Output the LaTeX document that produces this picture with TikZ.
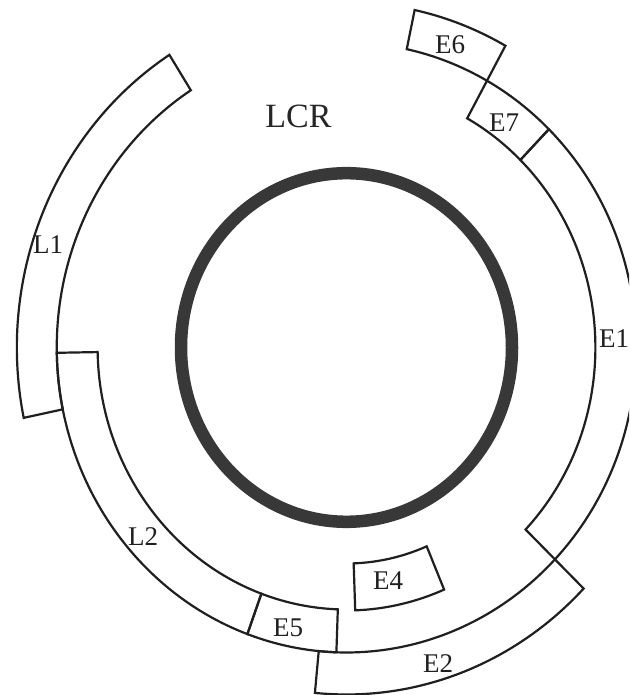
\documentclass[tikz,border=0pt]{standalone}
\usepackage{fontspec}
\setmainfont{Liberation Serif}
\begin{document}
\begin{tikzpicture}[x=1pt,y=1pt,
  band/.style={draw=black!88, line width=2.2pt, line join=miter},
  ring/.style={draw=black!78, line width=12.5pt},
  lab/.style={font=\fontsize{27}{27}\selectfont, text=black!88, inner sep=0pt},
  biglab/.style={font=\fontsize{34}{34}\selectfont, text=black!85, inner sep=0pt}]
\newcommand\bandsector[5]{%
  \draw[#1] (#2:#4) arc[start angle=#2, end angle=#3, radius=#4]
     -- (#3:#5) arc[start angle=#3, end angle=#2, radius=#5] -- cycle;}
\useasboundingbox (0,0) rectangle (629,695);
\fill[white] (0,0) rectangle (629,695);
\clip (0,0) rectangle (629,695);
% thick ring
\draw[ring] (346.5,347.5) circle[x radius=165.5, y radius=174.3];
\begin{scope}[shift={(346.5,347.5)}, xscale=0.95]
  \bandsector{band}{122.5}{191.7}{305}{347} % L1
  \bandsector{band}{181}{250}{262}{305}     % L2
  \bandsector{band}{250}{268}{262}{305}     % E5
  \bandsector{band}{264.5}{316}{305}{347}   % E2
  \bandsector{band}{-44}{45.7}{262}{305}    % E1
  \bandsector{band}{45.7}{61}{262}{305}     % E7
  \bandsector{band}{61}{78}{305}{345}       % E6
  \bandsector{band}{272}{293}{216}{263}     % E4
\end{scope}
% labels
\node[biglab] (lcr) at (298.5,578.5) {LCR};
\node[lab] (l1) at (48,450) {L1};
\node[lab] (l2) at (143,158) {L2};
\node[lab] (e5) at (288,67) {E5};
\node[lab] (e4) at (388,114) {E4};
\node[lab] (e2) at (438,31) {E2};
\node[lab] (e1) at (614,356) {E1};
\node[lab] (e7) at (504,572) {E7};
\node[lab] (e6) at (450,650) {E6};
\end{tikzpicture}
\end{document}
